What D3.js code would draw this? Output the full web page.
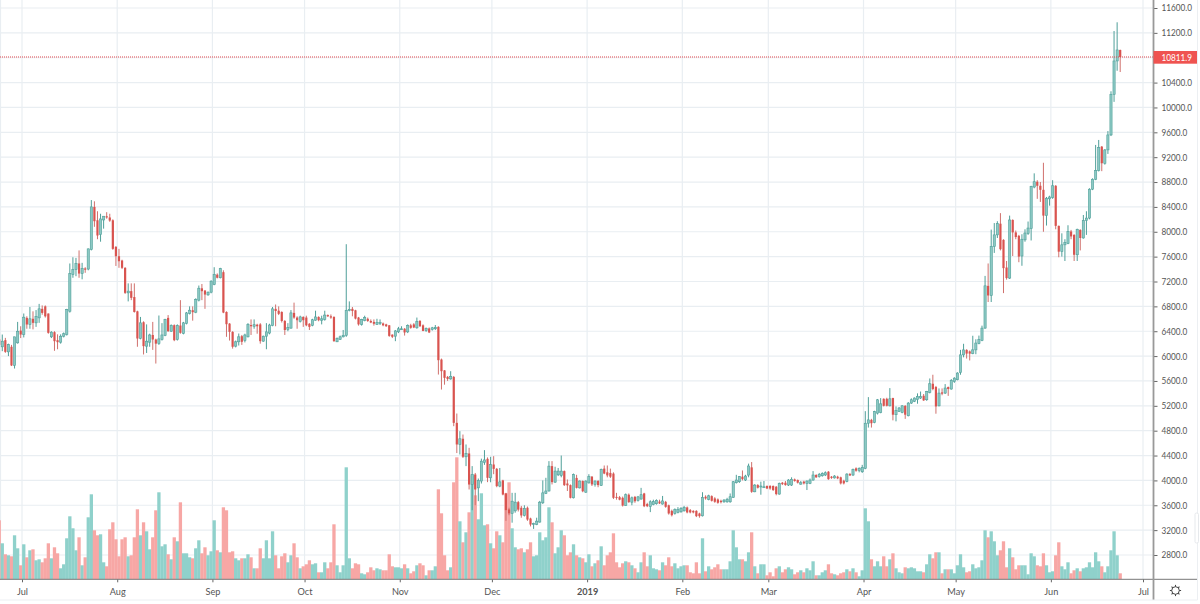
<!DOCTYPE html>
<html>
<head>
<meta charset="utf-8">
<script src="https://cdn.jsdelivr.net/npm/d3@7"></script>
<style>
  html, body { margin: 0; padding: 0; background: #fff; }
  svg { display: block; }
  text { font-family: Lato, "Open Sans", sans-serif; }
</style>
</head>
<body>
<svg id="drawing_region"></svg>
<script>
// daily candles, first one is 2018-06-24, last one 2019-06-24
const firstDay = "2018-06-24";

const opens = [
  6270,6149,6256,6068,6150,5849,6213,6410,6347,6615,6508,
  6600,6535,6615,6760,6800,6685,6310,6385,6256,6224,
  6320,6347,6722,7310,7392,7490,7328,7410,7400,7715,
  8400,8185,7955,8190,8250,8230,8185,7757,7607,7537,
  7420,7017,7045,6950,6720,6283,6545,6160,6224,6340,
  6267,6200,6267,6330,6615,6400,6497,6267,6492,6363,
  6524,6685,6738,6706,6900,7090,7055,6985,7028,7150,
  7310,7260,7350,6710,6523,6390,6160,6230,6320,6250,
  6310,6500,6480,6505,6510,6240,6320,6370,6490,6760,
  6730,6710,6565,6430,6450,6695,6620,6560,6630,6620,
  6520,6495,6577,6630,6577,6590,6660,6640,6630,6230,
  6270,6310,6335,6737,6760,6737,6620,6510,6570,6600,
  6565,6550,6510,6530,6525,6510,6495,6345,6320,6390,
  6430,6440,6390,6495,6510,6455,6565,6495,6410,6445,
  6430,6440,6470,5945,5770,5665,5633,5665,4926,4578,
  4670,4380,4433,3934,4095,3880,3990,4290,4347,4042,
  4256,4186,3908,4000,3790,3533,3470,3510,3650,3560,
  3436,3560,3387,3290,3290,3330,3640,3790,3830,4230,
  3972,4090,4080,4150,3950,3924,3720,4040,3880,3990,
  3810,3960,4060,3935,3990,3920,4190,4130,4120,4110,
  3735,3730,3720,3595,3770,3650,3735,3680,3700,3790,
  3620,3580,3610,3625,3660,3620,3655,3600,3510,3468,
  3485,3495,3510,3565,3522,3510,3510,3468,3430,3737,
  3694,3747,3710,3694,3672,3656,3656,3656,3726,3963,
  3979,4060,4006,4085,4210,3817,3925,3900,3888,3910,
  3910,3910,3898,3780,3963,3963,3925,3925,4017,4006,
  3940,3980,3952,3952,4006,4087,4060,4075,4087,4140,
  4060,4040,4060,4050,3995,3980,4102,4087,4194,4160,
  4140,4194,4920,4974,4930,5082,5090,5313,5313,5200,
  5325,5057,5110,5094,5200,5040,5244,5270,5300,5325,
  5362,5298,5416,5555,5502,5200,5416,5405,5502,5470,
  5590,5620,5735,6020,6100,6075,6040,6100,6200,6250,
  6450,7130,6975,7763,7950,8130,7870,7425,7255,8190,
  7990,7935,7610,7870,7970,8050,8720,8805,8740,8675,
  8260,8530,8550,8740,8095,7680,7790,7810,8005,7950,
  7630,8030,7900,8180,8220,8685,8845,8985,9370,9102,
  9317,9558,10212,10748,10925
];

const highs = [
  6300,6347,6293,6200,6180,6310,6550,6480,6685,6640,6790,
  6720,6740,6840,6815,6815,6685,6400,6400,6350,6350,
  6380,6760,7490,7590,7580,7700,7500,7430,7730,8510,
  8490,8330,8290,8250,8315,8290,8200,7770,7725,7550,
  7430,7170,7170,7170,6730,6630,6560,6510,6360,6550,
  6280,6653,6530,6600,6660,6510,6510,6510,6900,6550,
  6710,6800,6800,6930,7135,7160,7060,7040,7220,7430,
  7330,7420,7380,6720,6530,6400,6250,6363,6340,6360,
  6530,6590,6590,6520,6530,6330,6530,6520,6790,6830,
  6800,6720,6580,6530,6740,6860,6640,6650,6640,6650,
  6530,6600,6730,6640,6650,6730,6670,6670,6640,6300,
  6330,6420,7800,6880,6790,6745,6630,6600,6650,6620,
  6590,6590,6600,6590,6540,6520,6500,6350,6420,6470,
  6480,6450,6510,6520,6530,6620,6580,6510,6460,6460,
  6470,6500,6480,5960,5775,5680,5757,5680,5076,4792,
  4738,4578,4524,4230,4120,4030,4350,4487,4370,4380,
  4390,4200,4200,4010,3800,3560,3800,3800,3670,3590,
  3600,3580,3400,3320,3400,3670,4000,4042,4310,4310,
  4220,4200,4400,4160,4015,3935,4110,4090,4000,4000,
  4000,4100,4070,4000,4005,4190,4240,4240,4190,4130,
  3800,3750,3740,3790,3790,3740,3750,3750,3880,3800,
  3640,3680,3690,3695,3690,3750,3670,3610,3530,3550,
  3570,3570,3590,3580,3540,3520,3520,3480,3810,3760,
  3770,3760,3730,3710,3690,3700,3720,3790,3990,4090,
  4070,4160,4090,4270,4295,3940,3940,3980,3990,3920,
  3925,3920,3910,3965,3975,3990,4020,4050,4030,4015,
  3990,3995,4000,4030,4150,4100,4120,4130,4145,4150,
  4070,4085,4075,4060,4010,4115,4120,4190,4210,4210,
  4250,5114,5340,4990,5120,5310,5324,5320,5330,5485,
  5330,5190,5180,5210,5210,5260,5320,5335,5400,5430,
  5390,5440,5640,5700,5520,5480,5480,5550,5510,5630,
  5660,5740,6100,6198,6110,6090,6327,6270,6330,6490,
  7290,7490,8035,8140,8170,8300,7880,7530,8260,8200,
  8020,7950,7960,8040,8165,8740,8940,8830,8800,9110,
  8560,8580,8830,8750,8100,7975,7880,8105,8030,7960,
  8050,8040,8270,8330,8700,8860,9397,9477,9380,9330,
  9620,10260,11230,11370,10930
];

const lows = [
  6150,6079,6052,6000,5840,5800,6200,6290,6300,6440,6440,
  6430,6470,6535,6665,6620,6360,6290,6085,6110,6200,
  6300,6330,6700,7260,7285,7260,7235,7340,7380,7700,
  8080,7880,7840,8050,8210,8160,7710,7450,7420,7400,
  7000,6880,6900,6700,6150,6270,6026,6050,6150,6100,
  5880,6180,6250,6320,6390,6390,6240,6250,6360,6350,
  6510,6670,6570,6690,6880,6900,6760,6970,7010,7140,
  7250,7250,6690,6310,6250,6120,6140,6170,6180,6220,
  6300,6340,6440,6360,6200,6230,6110,6350,6480,6480,
  6660,6540,6340,6400,6440,6600,6440,6540,6470,6480,
  6420,6480,6570,6560,6510,6570,6630,6600,6230,6225,
  6260,6300,6310,6720,6640,6590,6490,6490,6560,6550,
  6530,6490,6500,6500,6480,6470,6310,6290,6240,6370,
  6420,6330,6370,6440,6450,6440,6470,6400,6390,6370,
  6410,6420,5703,5462,5540,5600,5620,4872,4440,4417,
  4360,4230,3854,3520,3600,3666,3950,4250,3972,3970,
  4100,3890,3890,3760,3350,3440,3320,3480,3500,3400,
  3420,3350,3260,3220,3280,3320,3620,3780,3820,3935,
  3960,4070,4050,3910,3830,3710,3710,3870,3870,3810,
  3800,3950,3910,3900,3890,3910,4100,4050,4040,3700,
  3690,3680,3580,3590,3640,3600,3640,3660,3690,3570,
  3570,3490,3600,3610,3620,3610,3560,3450,3420,3450,
  3470,3480,3500,3470,3470,3470,3410,3400,3420,3690,
  3680,3660,3640,3625,3630,3640,3640,3640,3720,3950,
  3960,4000,3990,4050,3800,3810,3870,3770,3880,3860,
  3850,3830,3760,3770,3925,3915,3910,3910,3980,3950,
  3930,3935,3845,3940,3995,4040,4045,4060,4070,4010,
  4025,4030,4020,3935,3935,3970,4070,4070,4140,4130,
  4120,4180,4850,4850,4920,5060,5080,5190,5190,5190,
  4966,4950,5100,5080,4990,5030,5230,5260,5234,5310,
  5280,5280,5400,5450,5073,5190,5370,5390,5360,5460,
  5570,5610,5700,5980,5960,5930,6030,6030,6190,6240,
  6440,6870,6870,7660,7900,7700,7013,7230,7240,7610,
  7880,7510,7453,7840,7950,7860,8700,8530,8480,8000,
  8100,8420,8530,8040,7590,7600,7530,7800,7880,7530,
  7530,7700,7890,7950,8200,8670,8830,8970,8975,9080,
  9252,9540,10090,10590,10570
];

const closes = [
  6180,6240,6068,6186,5849,6310,6400,6347,6626,6508,6600,
  6535,6640,6760,6695,6640,6374,6385,6240,6224,6320,
  6360,6750,7328,7392,7490,7328,7408,7390,7725,8400,
  8170,7940,8207,8250,8230,8180,7725,7607,7526,7420,
  7017,7045,6937,6710,6283,6535,6160,6240,6340,6267,
  6200,6277,6340,6590,6400,6492,6256,6492,6374,6535,
  6695,6738,6706,6910,7092,7044,6990,7028,7205,7310,
  7260,7408,6700,6513,6390,6150,6230,6310,6230,6340,
  6510,6480,6505,6480,6240,6320,6390,6500,6760,6725,
  6680,6565,6420,6460,6695,6620,6577,6630,6577,6495,
  6470,6585,6630,6577,6600,6660,6640,6620,6240,6285,
  6310,6335,6737,6750,6725,6603,6510,6590,6620,6565,
  6540,6520,6540,6540,6495,6480,6325,6310,6405,6440,
  6440,6380,6495,6455,6460,6560,6480,6405,6445,6380,
  6455,6460,5934,5757,5650,5633,5675,4926,4578,4670,
  4380,4433,3934,4095,3854,4000,4310,4330,4042,4256,
  4186,3908,3977,3773,3522,3470,3666,3650,3530,3436,
  3550,3370,3290,3310,3345,3650,3800,3830,4230,3972,
  4150,4150,4150,3924,3920,3720,4095,3880,3990,3825,
  3990,4060,3935,3990,3925,4175,4110,4080,4060,3720,
  3720,3690,3595,3770,3650,3720,3665,3735,3770,3585,
  3585,3656,3660,3680,3630,3670,3575,3468,3440,3530,
  3530,3550,3565,3485,3485,3485,3425,3425,3726,3710,
  3752,3672,3656,3640,3650,3683,3694,3737,3979,4006,
  4060,4020,4070,4232,3817,3925,3882,3910,3898,3870,
  3870,3845,3780,3952,3940,3925,4006,4017,3990,3963,
  3963,3952,3990,4006,4087,4050,4097,4113,4124,4020,
  4040,4070,4033,3952,3952,4102,4080,4178,4156,4194,
  4210,4920,4974,4920,5109,5297,5232,5200,5200,5313,
  5057,5126,5165,5200,5057,5244,5298,5325,5350,5350,
  5287,5432,5555,5470,5190,5405,5395,5486,5470,5609,
  5645,5727,6020,6100,6040,6040,6100,6210,6265,6450,
  7130,6975,7763,7950,8130,7720,7415,7255,8190,7990,
  7915,7600,7880,7980,8060,8730,8805,8740,8675,8260,
  8540,8560,8740,8095,7680,7790,7830,8005,7925,7630,
  8040,7900,8180,8220,8685,8845,8985,9354,9102,9317,
  9558,10212,10748,10925,10811.9
];

const volumes = [
  59,36,25,24,23,44,31,14,35,22,29,
  30,19,20,17,21,36,21,32,26,11,
  15,41,63,51,29,42,14,22,62,85,
  49,44,45,17,13,50,57,40,23,40,
  42,23,24,42,70,44,57,48,30,42,
  69,87,33,35,25,20,42,38,77,26,
  26,22,21,31,39,26,32,24,28,59,
  29,27,72,69,27,28,21,19,21,21,
  25,22,11,11,31,21,39,21,48,24,
  11,23,26,17,24,36,22,11,13,15,
  19,15,16,7,7,17,11,17,55,14,
  7,14,112,21,11,16,15,6,5,7,
  12,9,11,10,9,9,25,13,12,12,
  11,15,11,6,8,14,16,14,4,9,
  9,13,90,66,24,9,12,97,122,58,
  37,47,67,104,84,60,86,54,55,36,
  31,48,44,37,86,97,51,32,30,31,
  27,30,37,23,24,47,39,42,72,57,
  26,32,49,44,24,27,35,24,22,21,
  17,25,13,16,19,33,14,24,27,46,
  17,12,16,18,17,14,11,7,17,27,
  13,24,11,10,9,17,14,22,13,16,
  11,13,14,14,7,6,17,6,41,8,
  13,10,12,15,10,10,10,18,49,32,
  20,20,18,27,47,13,6,15,15,4,
  7,3,11,13,7,10,12,10,5,7,
  9,7,11,9,18,4,4,7,9,15,
  6,5,4,6,7,10,8,11,7,3,
  9,71,58,20,13,18,13,23,13,20,
  26,11,7,6,12,11,12,11,8,8,
  7,15,25,21,27,27,6,10,10,10,
  6,14,25,12,7,8,15,11,12,19,
  49,42,48,38,24,29,38,12,31,22,
  10,14,14,14,5,26,23,14,13,26,
  14,7,8,24,37,13,10,17,6,9,
  11,8,11,12,17,12,27,18,13,7,
  13,29,48,24,6
];

const priceTicks = [2800,3200,3600,4000,4400,4800,5200,5600,6000,6400,6800,7200,7600,8000,8400,8800,9200,9600,10000,10400,10800,11200,11600];
const monthTicks = ["2018-06-24","2018-07-01","2018-08-01","2018-09-01","2018-10-01","2018-11-01","2018-12-01","2019-01-01","2019-02-01","2019-03-01","2019-04-01","2019-05-01","2019-06-01","2019-07-01"];
const monthLabels = ["","Jul","Aug","Sep","Oct","Nov","Dec","2019","Feb","Mar","Apr","May","Jun","Jul"];
const lastPrice = 10811.9;

const width = 1200, height = 604;
const plotRight = 1153.5, plotBottom = 579.3;

const parseDay = d3.utcParse("%Y-%m-%d");
const priceFormat = d3.format(".1f");
const dates = d3.range(opens.length).map(i => d3.utcDay.offset(parseDay(firstDay), i));
const candles = dates.map((d, i) => ({
    date: d, open: opens[i], high: highs[i], low: lows[i], close: closes[i], volume: volumes[i],
    up: closes[i] >= opens[i]
}));

const svg = d3.select("#drawing_region").attr("width", width).attr("height", height);

const xscale = d3.scaleUtc()
    .domain([parseDay("2018-07-01"), parseDay("2019-07-01")])
    .range([22, 1143]);
const yscale = d3.scaleLinear()
    .domain([2800, 11600])
    .range([555, 8]);
const volscale = d3.scaleLinear()
    .domain([0, 120])
    .range([plotBottom, plotBottom - 120]);

// candles sit a little left of their day's grid line in the picture
const cx = d => xscale(d.date) - 1.3;
const tickDates = monthTicks.map(parseDay);

// price labels are squeezed in the reference, same height but narrower
const priceTextLength = s => 4.8 * (s.length - 1) + 1.7;

svg.append("defs").append("clipPath").attr("id", "plot_clip")
    .append("rect").attr("width", plotRight).attr("height", plotBottom);

// grid
const grid = svg.append("g").attr("stroke", "#e9eef2").attr("stroke-width", 1.2);
grid.selectAll("line.h").data(priceTicks).enter().append("line").attr("class", "h")
    .attr("x1", 0).attr("x2", plotRight)
    .attr("y1", d => yscale(d)).attr("y2", d => yscale(d));
grid.selectAll("line.v").data(tickDates).enter().append("line").attr("class", "v")
    .attr("x1", d => xscale(d)).attr("x2", d => xscale(d))
    .attr("y1", 0).attr("y2", plotBottom);

// the reference is a soft jpeg, so the marks get a tiny blur
const chart = svg.append("g").attr("clip-path", "url(#plot_clip)").append("g").style("filter", "blur(0.35px)");

// volume
chart.append("g").selectAll("rect").data(candles).enter().append("rect")
    .attr("x", d => cx(d) - 1.65)
    .attr("width", 3.3)
    .attr("y", d => volscale(d.volume))
    .attr("height", d => plotBottom - volscale(d.volume))
    .attr("fill", d => d.up ? "#8fd1cb" : "#f7a7a5");

// wicks
chart.append("g").selectAll("line").data(candles).enter().append("line")
    .attr("x1", cx).attr("x2", cx)
    .attr("y1", d => yscale(d.high)).attr("y2", d => yscale(d.low))
    .attr("stroke", d => d.up ? "#4f9f99" : "#d0706c")
    .attr("stroke-width", 1);

// bodies
chart.append("g").selectAll("rect").data(candles).enter().append("rect")
    .attr("x", d => cx(d) - 1.1)
    .attr("width", 2.2)
    .attr("y", d => yscale(Math.max(d.open, d.close)))
    .attr("height", d => Math.max(1, Math.abs(yscale(d.open) - yscale(d.close))))
    .attr("fill", d => d.up ? "#8cc9c4" : "#d9534f")
    .attr("stroke", d => d.up ? "#4f9f99" : "none")
    .attr("stroke-width", 0.6);

// last price line
svg.append("line")
    .attr("x1", 0).attr("x2", plotRight)
    .attr("y1", yscale(lastPrice)).attr("y2", yscale(lastPrice))
    .attr("stroke", "#e0474c").attr("stroke-width", 1).attr("stroke-dasharray", "1 1");

// axes
const yaxis = d3.axisRight(yscale).tickValues(priceTicks).tickFormat(priceFormat).tickSize(4).tickPadding(4);
const yaxis_group = svg.append("g").attr("transform", `translate(${plotRight}, 0)`).call(yaxis);
yaxis_group.select(".domain").remove();
yaxis_group.selectAll("line").attr("stroke", "#666");
yaxis_group.selectAll("text").attr("fill", "#555").attr("font-size", 9.2)
    .attr("textLength", d => priceTextLength(priceFormat(d)))
    .attr("lengthAdjust", "spacingAndGlyphs");

const xaxis = d3.axisBottom(xscale).tickValues(tickDates.slice(1))
    .tickFormat((d, i) => monthLabels[i + 1]).tickSize(3).tickPadding(6.5);
const xaxis_group = svg.append("g").attr("transform", `translate(0, ${plotBottom})`).call(xaxis);
xaxis_group.select(".domain").remove();
xaxis_group.selectAll("line").attr("stroke", "#666");
xaxis_group.selectAll("text").attr("fill", "#555").attr("font-size", 9.2)
    .attr("font-weight", (d, i) => monthLabels[i + 1] === "2019" ? "bold" : "normal");

svg.append("line").attr("x1", 0).attr("x2", 1197).attr("y1", plotBottom).attr("y2", plotBottom)
    .attr("stroke", "#777").attr("stroke-width", 1);
svg.append("line").attr("x1", plotRight).attr("x2", plotRight).attr("y1", 0).attr("y2", 600)
    .attr("stroke", "#999").attr("stroke-width", 1.8);

// last price badge
svg.append("rect").attr("x", plotRight).attr("y", yscale(lastPrice) - 6).attr("width", 44).attr("height", 12.7)
    .attr("fill", "#ef5350");
svg.append("text").attr("x", plotRight + 8).attr("y", yscale(lastPrice) + 3.6)
    .attr("fill", "#fff").attr("font-size", 9.2)
    .attr("textLength", priceTextLength(priceFormat(lastPrice)))
    .attr("lengthAdjust", "spacingAndGlyphs")
    .text(priceFormat(lastPrice));

// gear button
const gear = svg.append("g").attr("transform", "translate(1175.5, 590.5)")
    .attr("fill", "none").attr("stroke", "#444").attr("stroke-width", 1);
gear.append("circle").attr("r", 3.8);
gear.selectAll("line").data(d3.range(8)).enter().append("line")
    .attr("y1", -3.8).attr("y2", -5.6)
    .attr("transform", d => `rotate(${d * 45})`);

// outer frame and the small side tab
svg.append("path").attr("d", "M1197.5 0V600H0").attr("fill", "none").attr("stroke", "#eceff2");
svg.append("rect").attr("x", 1195).attr("y", 513).attr("width", 3.5).attr("height", 30).attr("rx", 1.5)
    .attr("fill", "#fff").attr("stroke", "#e6e9ec");
</script>
</body>
</html>
